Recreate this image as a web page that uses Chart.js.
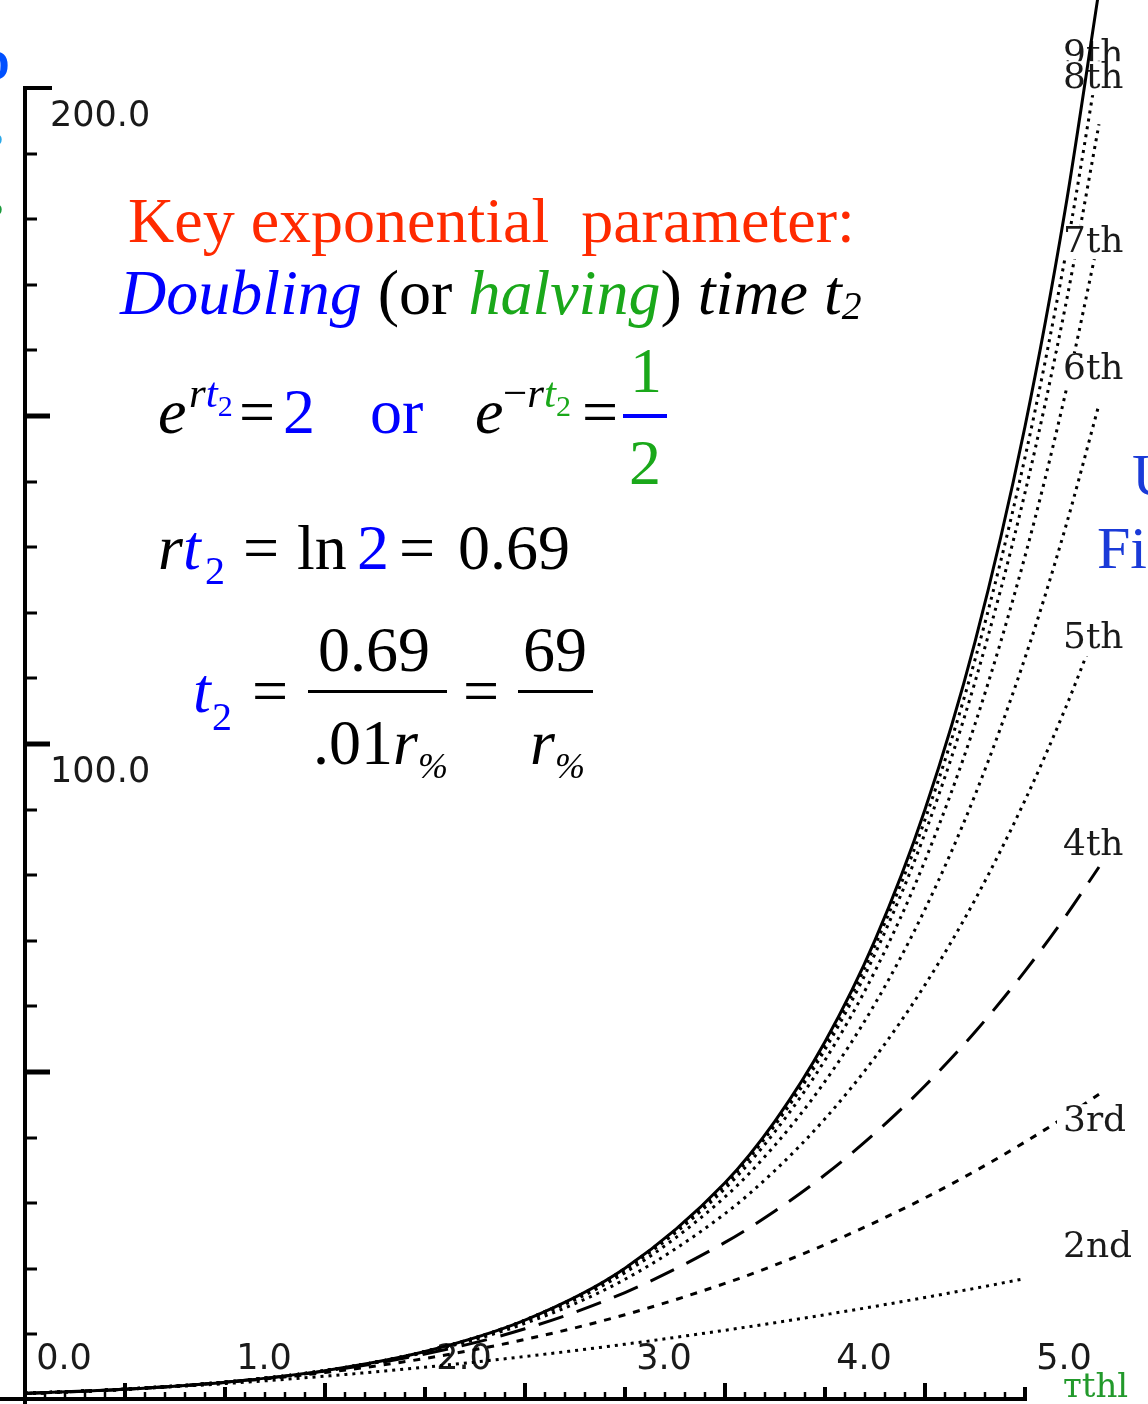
<!DOCTYPE html>
<html>
<head>
<meta charset="utf-8">
<script src="https://cdn.jsdelivr.net/npm/chart.js@4.4.1/dist/chart.umd.min.js"></script>
<style>
    html, body { margin: 0; padding: 0; background: #fff; }
    #wrap { position: relative; width: 1148px; height: 1404px; overflow: hidden; background: #fff; }
    #chart { position: absolute; left: 0; top: 0; }
    .t { position: absolute; line-height: 1; white-space: nowrap; font-family: "Liberation Serif", "Times New Roman", serif; font-size: 64px; color: #000; }
    .i { font-style: italic; }
    .sub { position: relative; font-size: 0.62em; }
    .blue { color: #0000ff; }
    .green { color: #1aa81a; }
    .red { color: #ff2a00; }
    .bar { position: absolute; }
</style>
</head>
<body>
<div id="wrap">
    <canvas id="chart" width="1148" height="1404"></canvas>

    <!-- heading -->
    <div class="t red" style="left:128px; top:189px;">Key exponential&nbsp; parameter:</div>
    <div class="t" style="left:120px; top:261px;"><span class="i blue">Doubling</span> (or <span class="i green">halving</span>) <span class="i">time t<span class="sub" style="top:5px;">2</span></span></div>

    <!-- e^{rt2} = 2  or  e^{-rt2} = 1/2 -->
    <div class="t i" style="left:158px; top:380px;">e</div>
    <div class="t i" style="left:189px; top:371px; font-size:43px;">r<span class="blue">t</span><span class="blue" style="position:relative; top:9px; font-size:30px; font-style:normal;">2</span></div>
    <div class="t" style="left:239px; top:380px;">=</div>
    <div class="t blue" style="left:283px; top:380px;">2</div>
    <div class="t blue" style="left:370px; top:380px;">or</div>
    <div class="t i" style="left:475px; top:380px;">e</div>
    <div class="t i" style="left:503px; top:371px; font-size:43px;"><span style="font-style:normal;">&minus;</span>r<span class="green">t</span><span class="green" style="position:relative; top:9px; font-size:30px; font-style:normal;">2</span></div>
    <div class="t" style="left:582px; top:380px;">=</div>
    <div class="t green" style="left:630px; top:339px;">1</div>
    <div class="bar" style="left:623px; top:414px; width:44px; height:4px; background:#0000ff;"></div>
    <div class="t green" style="left:629px; top:431px;">2</div>

    <!-- rt2 = ln 2 = 0.69 -->
    <div class="t" style="left:158px; top:516px;"><span class="i">r</span><span class="i blue">t</span></div>
    <div class="t blue" style="left:205px; top:551px; font-size:40px;">2</div>
    <div class="t" style="left:243px; top:516px;">=</div>
    <div class="t" style="left:297px; top:516px;">ln</div>
    <div class="t blue" style="left:357px; top:516px;">2</div>
    <div class="t" style="left:399px; top:516px;">=</div>
    <div class="t" style="left:458px; top:516px;">0.69</div>

    <!-- t2 = 0.69/.01r% = 69/r% -->
    <div class="t i blue" style="left:193px; top:659px;">t</div>
    <div class="t blue" style="left:212px; top:697px; font-size:40px;">2</div>
    <div class="t" style="left:252px; top:659px;">=</div>
    <div class="t" style="left:318px; top:618px;">0.69</div>
    <div class="bar" style="left:308px; top:690px; width:139px; height:3px; background:#000;"></div>
    <div class="t" style="left:313px; top:711px;">.01<span class="i">r</span><span class="i" style="position:relative; top:14px; font-size:36px;">%</span></div>
    <div class="t" style="left:463px; top:659px;">=</div>
    <div class="t" style="left:523px; top:618px;">69</div>
    <div class="bar" style="left:518px; top:690px; width:75px; height:3px; background:#000;"></div>
    <div class="t" style="left:530px; top:711px;"><span class="i">r</span><span class="i" style="position:relative; top:14px; font-size:36px;">%</span></div>

    <!-- text cut off at the edges of the slide -->
    <div class="t" style="left:-22px; top:44px; font-size:44px; color:#0050ff; font-weight:bold;">D</div>
    <div class="t" style="left:-12px; top:128px; font-size:34px; color:#2aa8e8;">?</div>
    <div class="t" style="left:-12px; top:198px; font-size:34px; color:#1a9a3a;">?</div>
    <div class="t" style="left:1132px; top:445px; font-size:60px; color:#1a3ad8;">U</div>
    <div class="t" style="left:1097px; top:518px; font-size:60px; color:#1a3ad8;">Fi</div>
    <div class="t" style="left:1063px; top:1368px; font-size:34px; color:#22992b; font-family:'DejaVu Serif';">тthl</div>
</div>

<script>
// ===================================
// Taylor polynomials of e^x
// ===================================

const xs = [0, 0.5, 1, 1.5, 2, 2.5, 3, 3.5, 3.75, 4, 4.25, 4.5, 4.75, 5, 5.2, 5.37];

const expVals = [1, 1.65, 2.72, 4.48, 7.39, 12.18, 20.09, 33.12, 42.52, 54.6, 70.11, 90.02, 115.58, 148.41, 181.27, 214.9];
const t9 = [1, 1.65, 2.72, 4.48, 7.39, 12.18, 20.06, 33.01, 42.29, 54.15, 69.27, 88.48, 112.85, 143.69, 174.08, 204.7];
const t8 = [1, 1.65, 2.72, 4.48, 7.39, 12.17, 20.01, 32.79, 41.89, 53.43, 68.02, 86.39, 109.46, 138.31, 166.42, 194.47];
const t7 = [1, 1.65, 2.72, 4.48, 7.38, 12.13, 19.85, 32.23, 40.92, 51.81, 65.38, 82.22, 103.03, 128.62, 153.16, 177.32];
const t6 = [1, 1.65, 2.72, 4.48, 7.36, 12.01, 19.41, 30.95, 38.85, 48.56, 60.41, 74.81, 92.21, 113.12, 132.76, 151.77];
const t5 = [1, 1.65, 2.72, 4.46, 7.27, 11.67, 18.4, 28.4, 34.99, 42.87, 52.23, 63.28, 76.25, 91.42, 105.3, 118.46];
const t4 = [1, 1.65, 2.71, 4.4, 7.0, 10.86, 16.38, 24.02, 28.81, 34.33, 40.67, 47.9, 56.1, 65.38, 73.62, 81.25];
const t3 = [1, 1.65, 2.67, 4.19, 6.33, 9.23, 13.0, 17.77, 20.57, 23.67, 27.08, 30.81, 34.89, 39.33, 43.15, 46.6];
// the 2nd-order curve disappears just past 5.0
const t2 = [1, 1.63, 2.5, 3.63, 5.0, 6.63, 8.5, 10.63, 11.78, 13.0, 14.28, 15.63, 17.03, 18.5, null, null];

// curve tags at the right end (9th first, so 8th sits on top of it)
const seriesNames = ['9th', '8th', '7th', '6th', '5th', '4th', '3rd', '2nd'];
const labelLevels = [205, 201.5, 176.5, 157, 116, 84.5, 42.5, 23.2];
const labelX = 5.19;

const xTickLabels = ['0.0', '1.0', '2.0', '3.0', '4.0', '5.0'];
const yLabelValues = [100, 200];
const yTickLabels = ['100.0', '200.0'];

const dotted = [3, 5];

function toPoints(vals) {
    return xs.map((x, i) => ({ x: x, y: vals[i] }));
}

function curve(vals, dash, order) {
    return {
        data: toPoints(vals),
        borderColor: '#000',
        borderWidth: 3,
        borderDash: dash,
        pointRadius: 0,
        cubicInterpolationMode: 'monotone',
        spanGaps: false,
        clip: false,
        order: order
    };
}

// draws the axis lines and the small tick marks the way the old plotter did
const oldAxesPlugin = {
    id: 'oldAxes',
    beforeDatasetsDraw(chart) {
        const ctx = chart.ctx;
        const xScale = chart.scales.x;
        const yScale = chart.scales.y;
        const x0 = xScale.getPixelForValue(0);
        const y0 = yScale.getPixelForValue(0);
        const yTop = yScale.getPixelForValue(200);

        ctx.save();
        ctx.strokeStyle = '#000';
        ctx.lineCap = 'butt';

        // vertical axis + top cap
        ctx.lineWidth = 4;
        ctx.beginPath();
        ctx.moveTo(x0, yTop - 2);
        ctx.lineTo(x0, chart.height);
        ctx.moveTo(x0 - 2, yTop);
        ctx.lineTo(x0 + 27, yTop);
        ctx.stroke();

        // horizontal axis, stops at 5.0
        ctx.beginPath();
        ctx.moveTo(0, y0 - 1);
        ctx.lineTo(xScale.getPixelForValue(5) + 2, y0 - 1);
        ctx.stroke();

        // y ticks every 10, long ones every 50
        for (let v = 10; v < 200; v += 10) {
            const py = Math.round(yScale.getPixelForValue(v));
            const big = v % 50 === 0;
            ctx.lineWidth = big ? 5 : 3;
            ctx.beginPath();
            ctx.moveTo(x0, py);
            ctx.lineTo(x0 + (big ? 25 : 12), py);
            ctx.stroke();
        }

        // x ticks every 0.1
        for (let k = 1; k <= 50; k++) {
            const px = Math.round(xScale.getPixelForValue(k / 10));
            let len = 8;
            let w = 2.5;
            if (k % 10 === 0) { len = 13; w = 4; }
            else if (k % 5 === 0) { len = 17; w = 4; }
            ctx.lineWidth = w;
            ctx.beginPath();
            ctx.moveTo(px, y0);
            ctx.lineTo(px, y0 - len);
            ctx.stroke();
        }
        ctx.restore();
    },
    beforeDatasetDraw(chart, args) {
        // tags go under the solid e^x curve but over the dotted ones
        if (args.index !== 0) return;
        const ctx = chart.ctx;
        const px = chart.scales.x.getPixelForValue(labelX);
        ctx.save();
        ctx.font = '36px "DejaVu Serif"';
        ctx.textBaseline = 'middle';
        ctx.textAlign = 'left';
        seriesNames.forEach((name, i) => {
            const py = chart.scales.y.getPixelForValue(labelLevels[i]);
            ctx.fillStyle = '#fff';
            ctx.fillRect(px - 6, py - 17, 80, 34);
            ctx.fillStyle = '#1a1a1a';
            ctx.fillText(name, px, py);
        });
        ctx.restore();
    }
};

const ctx = document.getElementById('chart').getContext('2d');

new Chart(ctx, {
    type: 'line',
    data: {
        datasets: [
            curve(expVals, [], 0),
            curve(t9, dotted, 1),
            curve(t8, dotted, 1),
            curve(t7, dotted, 1),
            curve(t6, dotted, 1),
            curve(t5, dotted, 1),
            curve(t4, [26, 14], 1),
            curve(t3, [7, 8], 1),
            curve(t2, dotted, 1)
        ]
    },
    options: {
        responsive: false,
        animation: false,
        devicePixelRatio: 1,
        layout: {
            // x runs to 5.4 so the curves can go past the 5.0 end of the axis
            padding: { left: 0, right: 43, top: 88, bottom: 0 }
        },
        plugins: {
            legend: { display: false },
            tooltip: { enabled: false }
        },
        scales: {
            x: {
                type: 'linear',
                min: 0,
                max: 5.4,
                grid: { display: false },
                border: { display: false },
                ticks: {
                    stepSize: 1,
                    includeBounds: false,
                    autoSkip: false,
                    maxRotation: 0,
                    mirror: true,
                    align: 'start',
                    padding: 19,
                    color: '#1a1a1a',
                    font: { family: 'DejaVu Sans', size: 35 },
                    callback: (value) => Number.isInteger(value) ? ' ' + xTickLabels[value] : ''
                },
                afterFit: (scale) => {
                    scale.height = 4;
                    scale.paddingLeft = 0;
                    scale.paddingRight = 0;
                }
            },
            y: {
                type: 'linear',
                min: 0,
                max: 200,
                grid: { display: false },
                border: { display: false },
                ticks: {
                    stepSize: 100,
                    mirror: true,
                    crossAlign: 'far',
                    padding: 25,
                    color: '#1a1a1a',
                    font: { family: 'DejaVu Sans', size: 35, lineHeight: 1.65 },
                    callback: (value) => {
                        const i = yLabelValues.indexOf(value);
                        return i >= 0 ? ['', yTickLabels[i]] : '';
                    }
                },
                afterFit: (scale) => {
                    scale.width = 25;
                    scale.paddingTop = 0;
                    scale.paddingBottom = 0;
                }
            }
        }
    },
    plugins: [oldAxesPlugin]
});
</script>
</body>
</html>
